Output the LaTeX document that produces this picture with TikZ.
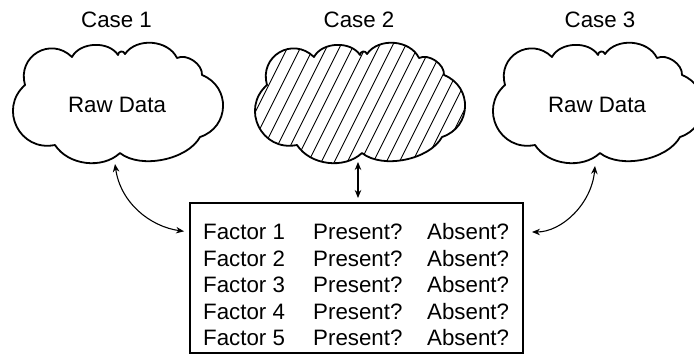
\documentclass[tikz,border=0pt]{standalone}
\usepackage{fontspec}
\setmainfont{Liberation Sans}
\usetikzlibrary{arrows.meta}
\newcommand\mycloud{(-92,19.5) to[bend left=75,looseness=1.4] (-45,47.5) to[bend left=60,looseness=0.95] (1,49.5) to[bend left=80,looseness=1.5] (8,50.5) to[bend left=60,looseness=1.0] (60,46.5) to[bend left=60,looseness=0.92] (85,29.5) to[bend left=70,looseness=1.29] (83,-32.5) to[bend left=50,looseness=0.82] (3,-48.5) to[bend left=50,looseness=0.95] (-62,-40.5) to[bend left=75,looseness=1.37] (-92,19.5) -- cycle}
\tikzset{
  x=1pt, y=1pt,
  lbl/.style={font=\fontsize{22.3}{26}\selectfont, inner sep=0pt},
  cell/.style={lbl, anchor=west},
  cloudarea/.style={minimum width=213, minimum height=121, inner sep=0pt},
  cloudline/.style={line width=1.8pt, line join=round},
  hatchline/.style={line width=0.9pt},
  conn/.style={line width=1.1pt, {Stealth[length=8pt,width=6.5pt]}-{Stealth[length=8pt,width=6.5pt]}},
  boxstyle/.style={draw, line width=2pt, minimum width=333, minimum height=150, inner sep=0pt}
}
\begin{document}
\begin{tikzpicture}
\useasboundingbox (0,0) rectangle (694,-362);
% case labels
\node[lbl] (case1) at (116.5,-20) {Case 1};
\node[lbl] (case2) at (359,-20) {Case 2};
\node[lbl] (case3) at (600,-20) {Case 3};
% cloud areas
\node[cloudarea] (c1) at (117,-104.5) {};
\node[cloudarea] (c2) at (359,-104.5) {};
\node[cloudarea] (c3) at (597,-104.5) {};
% cloud 1
\begin{scope}[shift={(c1.center)}]
  \draw[cloudline, fill=white] \mycloud;
\end{scope}
% cloud 2 hatched
\begin{scope}[shift={(c2.center)}]
  \fill[white] \mycloud;
  \begin{scope}
    \clip \mycloud;
    \foreach \i in {-14,...,14} {
      \draw[hatchline] (\i*13-70,-70) -- ++(70,140);
    }
  \end{scope}
  \draw[cloudline] \mycloud;
\end{scope}
% cloud 3
\begin{scope}[shift={(c3.center)}]
  \draw[cloudline, fill=white] \mycloud;
\end{scope}
\node[lbl] (rd1) at (c1.center) {Raw Data};
\node[lbl] (rd3) at (c3.center) {Raw Data};
% box
\node[boxstyle] (box) at (356.5,-278) {};
\foreach \r/\y in {1/-232,2/-258.5,3/-285,4/-311.5,5/-338} {
  \node[cell] (f\r) at (203,\y) {Factor \r};
  \node[cell] (p\r) at (313,\y) {Present?};
  \node[cell] (q\r) at (427,\y) {Absent?};
}
% connectors
\coordinate (t1) at (115,-164);
\coordinate (t2) at (358,-162);
\coordinate (t3) at (595,-166);
\draw[conn, shorten >=5pt] (t1) to[out=-82,in=172] (box.west |- f1);
\draw[conn, shorten >=4pt] (t2) -- (box.north -| t2);
\draw[conn, shorten >=8pt] (t3) to[out=-95,in=0] (box.east |- f1);
\end{tikzpicture}
\end{document}
